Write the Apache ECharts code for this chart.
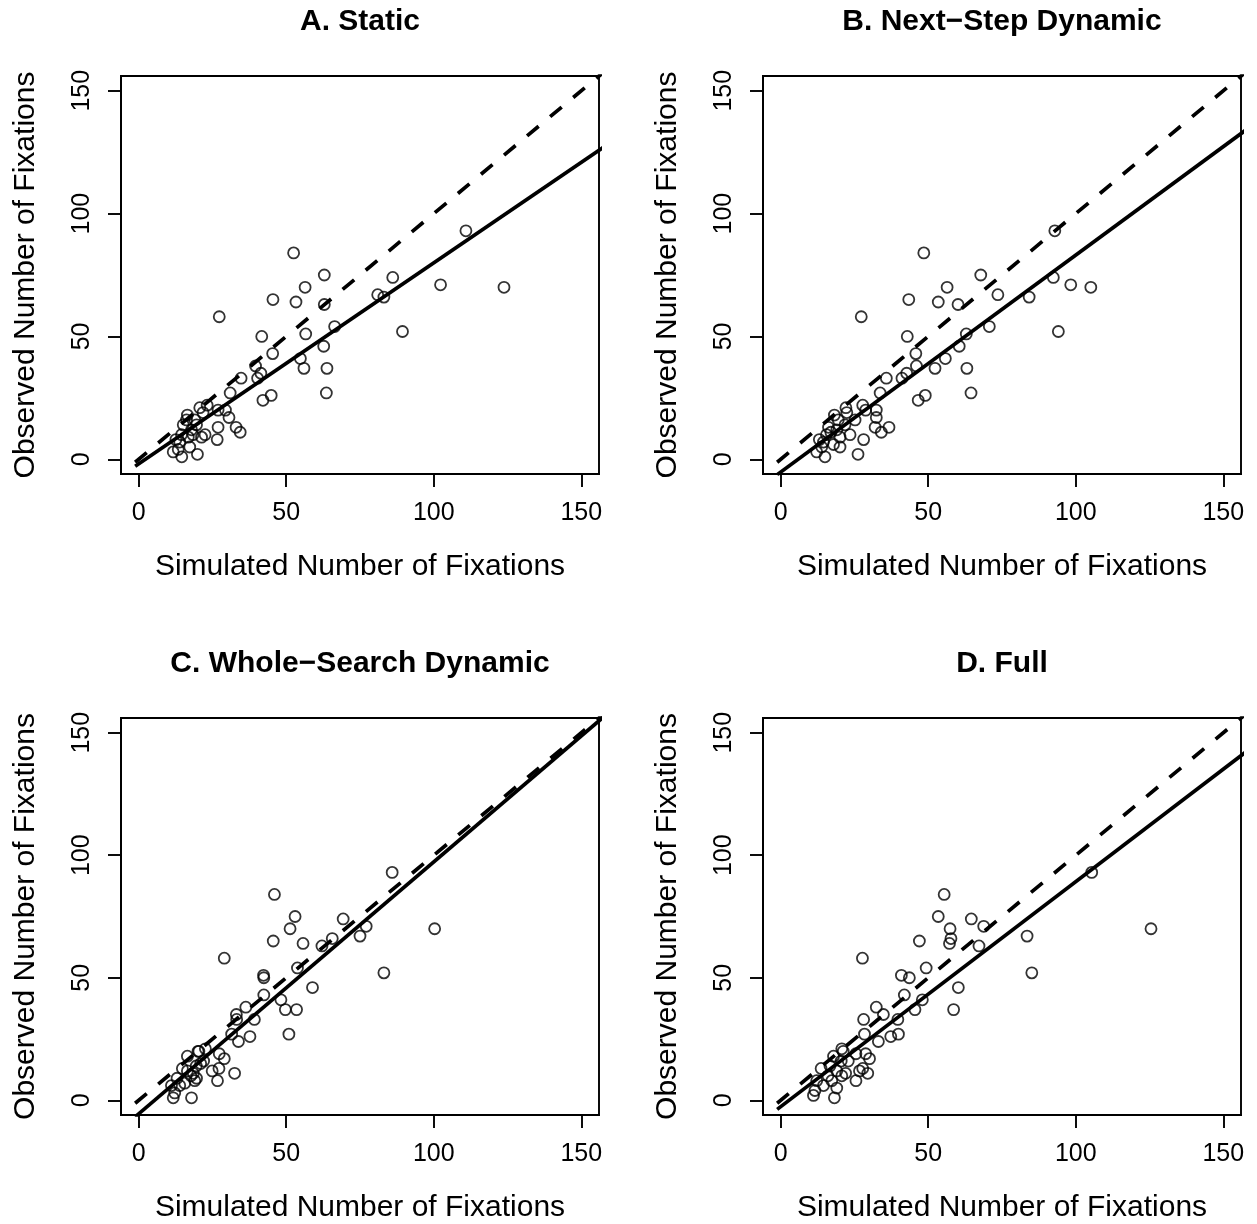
<!DOCTYPE html>
<html>
<head>
<meta charset="utf-8">
<script src="https://cdn.jsdelivr.net/npm/echarts@6/dist/echarts.min.js"></script>
<style>
  html, body { margin: 0; padding: 0; background: #fff; }
  #chart { width: 1257px; height: 1224px; }
</style>
</head>
<body>
<div id="chart"></div>
<script>
// panel titles and axis texts
const panelTitles = ["A. Static", "B. Next−Step Dynamic", "C. Whole−Search Dynamic", "D. Full"];
const xTitle = "Simulated Number of Fixations";
const yTitle = "Observed Number of Fixations";
const tickValues = [0, 50, 100, 150];
const axisMin = -6;
const axisMax = 156;

// fitted regression line (solid) per panel: y = a + b*x ; dashed line is y = x
const fitIntercept = [-1.86, -5.2, -5.5, -2.6];
const fitSlope = [0.818, 0.883, 1.028, 0.918];
const lineFrom = -1.2;
const lineTo = 160;

// [simulated, observed]
const pointsA = [
  [110.9, 93], [52.5, 84], [62.9, 75], [86.1, 74], [56.4, 70], [102.3, 71], [123.8, 70],
  [45.5, 65], [53.3, 64], [62.9, 63], [81.0, 67], [83.1, 66], [27.3, 58], [66.4, 54],
  [89.4, 52], [41.7, 50], [56.6, 51], [62.7, 46], [45.4, 43], [54.8, 41], [39.6, 38],
  [41.4, 35], [56.0, 37], [63.8, 37], [34.7, 33], [40.3, 33], [31.0, 27], [63.6, 27],
  [44.9, 26], [42.1, 24],
  [20.7, 21], [23.2, 22], [16.5, 18], [26.9, 20], [29.4, 20], [30.6, 17], [33.0, 13],
  [34.4, 11], [26.9, 13], [26.6, 8], [19.9, 2], [22.5, 10], [12.6, 8], [11.7, 3], [14.6, 1],
  [19.0, 16], [15.1, 14], [17.9, 12], [19.6, 14], [16.8, 9], [13.9, 7], [17.3, 5],
  [13.4, 4], [21.3, 9], [18.4, 10], [14.5, 10], [21.8, 19], [16.2, 16]
];
const pointsB = [
  [92.9, 93], [48.5, 84], [67.8, 75], [92.4, 74], [56.4, 70], [98.3, 71], [105.1, 70],
  [43.4, 65], [53.4, 64], [60.1, 63], [73.6, 67], [84.2, 66], [27.3, 58], [70.7, 54],
  [94.1, 52], [42.9, 50], [62.9, 51], [60.5, 46], [45.8, 43], [55.8, 41], [46.0, 38],
  [42.7, 35], [52.3, 37], [63.1, 37], [35.8, 33], [41.1, 33], [33.7, 27], [64.5, 27],
  [49.0, 26], [46.6, 24],
  [27.8, 22], [28.8, 20], [32.4, 20], [32.4, 17], [36.7, 13], [34.1, 11], [32.0, 13],
  [28.1, 8], [26.2, 2], [22.1, 21], [18.2, 18], [25.2, 16], [16.2, 13], [13.1, 8],
  [12.2, 3], [15.0, 1], [23.5, 10], [20.1, 9], [19.0, 12], [21.8, 14], [17.9, 6],
  [13.9, 5], [20.1, 5], [22.4, 19], [15.5, 10], [19.5, 16], [17.0, 11], [14.5, 7]
];
const pointsC = [
  [85.9, 93], [46.0, 84], [53.0, 75], [69.3, 74], [51.3, 70], [77.1, 71], [100.3, 70],
  [45.6, 65], [55.7, 64], [62.1, 63], [65.6, 66], [75.0, 67], [29.0, 58], [53.8, 54],
  [83.1, 52], [42.3, 51], [42.4, 50], [58.9, 46], [42.4, 43], [48.2, 41], [36.3, 38],
  [33.1, 35], [49.7, 37], [53.5, 37], [33.2, 33], [39.2, 33], [31.5, 27], [50.9, 27],
  [33.8, 24], [37.7, 26],
  [22.6, 21], [20.1, 20], [27.3, 19], [29.0, 17], [16.5, 18], [27.2, 13], [24.9, 12],
  [26.7, 8], [32.5, 11], [17.9, 1], [19.5, 14], [22.0, 16], [14.8, 13], [13.0, 9],
  [11.1, 6], [11.7, 1], [12.2, 3], [19.6, 9], [17.7, 10], [15.6, 7], [13.9, 6],
  [19.0, 8], [20.4, 20], [16.5, 12], [18.5, 11], [21.0, 15]
];
const pointsD = [
  [105.4, 93], [55.4, 84], [64.6, 74], [53.4, 75], [57.4, 70], [68.8, 71], [125.5, 70],
  [47.0, 65], [57.7, 66], [57.2, 64], [67.2, 63], [83.5, 67], [27.7, 58], [49.3, 54],
  [85.1, 52], [40.9, 51], [43.6, 50], [60.2, 46], [41.9, 43], [48.0, 41], [32.4, 38],
  [34.8, 35], [45.5, 37], [58.6, 37], [28.1, 33], [39.7, 33], [28.4, 27], [39.9, 27],
  [37.3, 26], [33.1, 24],
  [20.7, 21], [21.2, 20], [28.8, 19], [30.1, 17], [25.5, 19], [22.9, 16], [17.9, 18],
  [27.8, 13], [26.7, 12], [29.5, 11], [25.5, 8], [18.2, 1], [13.7, 13], [16.7, 14],
  [20.7, 10], [19.0, 12], [12.2, 8], [11.1, 2], [11.6, 4], [14.5, 6], [17.3, 8],
  [20.5, 16], [16.0, 10], [22.0, 11], [19.0, 5]
];
const allPoints = [pointsA, pointsB, pointsC, pointsD];

const font = "Liberation Sans, Arial, Helvetica, sans-serif";
const boxes = [
  { left: 121, top: 76 },
  { left: 763, top: 76 },
  { left: 121, top: 718 },
  { left: 763, top: 718 }
];
const boxW = 478;
const boxH = 398;

const grid = [], xAxis = [], yAxis = [], series = [], title = [];

boxes.forEach((b, i) => {
  grid.push({
    left: b.left, top: b.top, width: boxW, height: boxH,
    show: true, borderColor: "#000", borderWidth: 1.9, backgroundColor: "transparent"
  });
  title.push({
    text: panelTitles[i],
    left: b.left + boxW / 2,
    top: b.top - 69,
    textAlign: "center",
    padding: 0,
    textStyle: { fontFamily: font, fontSize: 30, fontWeight: "bold", color: "#000" }
  });
  const common = {
    gridIndex: i, type: "value", min: axisMin, max: axisMax,
    axisLine: { show: true, onZero: false, lineStyle: { color: "#000", width: 1.9 } },
    axisTick: { show: true, inside: false, length: 13, customValues: tickValues,
      lineStyle: { color: "#000", width: 1.9 } },
    splitLine: { show: false }
  };
  xAxis.push(Object.assign({}, common, {
    position: "bottom",
    axisLabel: { customValues: tickValues, margin: 27, fontFamily: font, fontSize: 25, color: "#000" },
    name: xTitle, nameLocation: "middle", nameGap: 78,
    nameTextStyle: { fontFamily: font, fontSize: 30, color: "#000" }
  }));
  yAxis.push(Object.assign({}, common, {
    position: "left",
    axisLabel: { customValues: tickValues, rotate: 90, margin: 26, fontFamily: font, fontSize: 25, color: "#000" },
    name: yTitle, nameLocation: "middle", nameGap: 80,
    nameTextStyle: { fontFamily: font, fontSize: 30, color: "#000" }
  }));

  series.push({
    type: "scatter", xAxisIndex: i, yAxisIndex: i,
    data: allPoints[i],
    symbol: "circle", symbolSize: 11,
    itemStyle: { color: "rgba(0,0,0,0)", borderColor: "#000", borderWidth: 1.8 },
    silent: true
  });
  // dashed identity line
  series.push({
    type: "line", xAxisIndex: i, yAxisIndex: i,
    data: [[lineFrom, lineFrom], [lineTo, lineTo]],
    showSymbol: false, clip: true, silent: true,
    lineStyle: { color: "#000", width: 3.7, type: [15, 15] }
  });
  // fitted line
  series.push({
    type: "line", xAxisIndex: i, yAxisIndex: i,
    data: [[lineFrom, fitIntercept[i] + fitSlope[i] * lineFrom],
           [lineTo, fitIntercept[i] + fitSlope[i] * lineTo]],
    showSymbol: false, clip: true, silent: true,
    lineStyle: { color: "#000", width: 3.7 }
  });
});

const chart = echarts.init(document.getElementById("chart"));
chart.setOption({
  animation: false,
  backgroundColor: "#fff",
  title: title,
  grid: grid,
  xAxis: xAxis,
  yAxis: yAxis,
  series: series
});
</script>
</body>
</html>
